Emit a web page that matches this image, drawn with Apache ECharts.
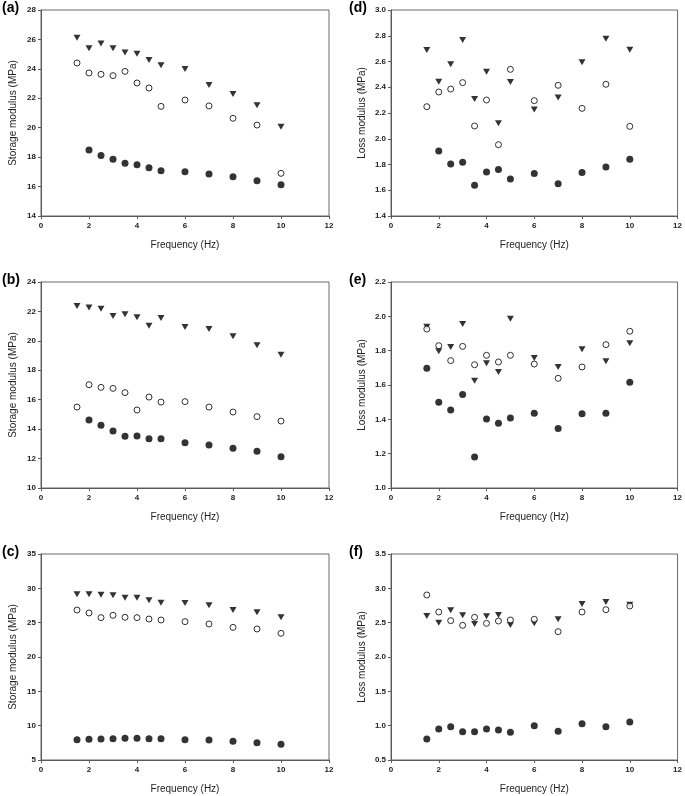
<!DOCTYPE html>
<html>
<head>
<meta charset="utf-8">
<script src="https://cdn.jsdelivr.net/npm/echarts@6/dist/echarts.min.js"></script>
<style>
html,body{margin:0;padding:0;background:#fff;}
#chart{width:685px;height:796px;}
</style>
</head>
<body>
<div id="chart"></div>
<script>
// Frequencies (Hz)
var freq = [1.5, 2, 2.5, 3, 3.5, 4, 4.5, 5, 6, 7, 8, 9, 10];
var xTicks = [0, 2, 4, 6, 8, 10, 12];

// (a) Storage modulus
var aTri    = [26.12, 25.40, 25.73, 25.40, 25.12, 25.03, 24.60, 24.24, 23.99, 22.90, 22.29, 21.52, 20.07];
var aOpen   = [24.40, 23.72, 23.63, 23.54, 23.83, 23.04, 22.70, 21.45, 21.88, 21.48, 20.64, 20.18, 16.90];
var aFilled = [null, 18.49, 18.12, 17.85, 17.58, 17.49, 17.28, 17.08, 17.01, 16.85, 16.67, 16.40, 16.13];

// (b) Storage modulus
var bTri    = [22.37, 22.26, 22.19, 21.69, 21.80, 21.60, 21.03, 21.55, 20.94, 20.81, 20.31, 19.70, 19.06];
var bOpen   = [15.50, 17.02, 16.84, 16.77, 16.48, 15.30, 16.18, 15.84, 15.87, 15.50, 15.16, 14.85, 14.55];
var bFilled = [null, 14.62, 14.26, 13.87, 13.51, 13.53, 13.35, 13.35, 13.08, 12.92, 12.70, 12.49, 12.13];

// (c) Storage modulus
var cTri    = [29.13, 29.13, 29.08, 28.98, 28.64, 28.64, 28.25, 27.91, 27.86, 27.52, 26.84, 26.50, 25.78];
var cOpen   = [26.84, 26.41, 25.73, 26.07, 25.78, 25.73, 25.53, 25.39, 25.15, 24.81, 24.32, 24.08, 23.45];
var cFilled = [7.96, 8.01, 8.06, 8.11, 8.16, 8.16, 8.11, 8.11, 7.96, 7.91, 7.72, 7.52, 7.28];

// (d) Loss modulus
var dTri    = [2.690, 2.443, 2.578, 2.767, 2.309, 2.521, 2.120, 2.440, 2.228, 2.320, 2.594, 2.777, 2.692];
var dOpen   = [2.249, 2.363, 2.386, 2.436, 2.099, 2.301, 1.954, 2.539, 2.296, 2.415, 2.236, 2.423, 2.096];
var dFilled = [null, 1.905, 1.804, 1.817, 1.638, 1.742, 1.762, 1.687, 1.731, 1.651, 1.737, 1.781, 1.840];

// (e) Loss modulus
var eTri    = [1.940, 1.796, 1.821, 1.955, 1.625, 1.726, 1.676, 1.986, 1.757, 1.705, 1.808, 1.738, 1.843];
var eOpen   = [1.926, 1.829, 1.742, 1.825, 1.718, 1.773, 1.734, 1.773, 1.722, 1.639, 1.705, 1.835, 1.913];
var eFilled = [1.697, 1.499, 1.454, 1.544, 1.181, 1.402, 1.377, 1.408, 1.435, 1.346, 1.433, 1.435, 1.616];

// (f) Loss modulus
var fTri    = [2.597, 2.500, 2.680, 2.607, 2.480, 2.592, 2.612, 2.466, 2.490, 2.549, 2.772, 2.801, 2.762];
var fOpen   = [2.903, 2.655, 2.529, 2.461, 2.578, 2.490, 2.524, 2.539, 2.549, 2.369, 2.655, 2.689, 2.743];
var fFilled = [0.806, 0.951, 0.985, 0.913, 0.913, 0.951, 0.937, 0.903, 1.000, 0.917, 1.029, 0.985, 1.053];

// Panel labels and axis ranges
var panelLabels = ['(a)', '(b)', '(c)', '(d)', '(e)', '(f)'];
var yTitles = ['Storage modulus (MPa)', 'Storage modulus (MPa)', 'Storage modulus (MPa)',
               'Loss modulus (MPa)', 'Loss modulus (MPa)', 'Loss modulus (MPa)'];
var xTitle = 'Frequency (Hz)';
var yMin = [14, 10, 5, 1.4, 1.0, 0.5];
var yMax = [28, 24, 35, 3.0, 2.2, 3.5];
var yStep = [2, 2, 5, 0.2, 0.2, 0.5];
var yDecimals = [0, 0, 0, 1, 1, 1];

var panels = [
  [aTri, aOpen, aFilled],
  [bTri, bOpen, bFilled],
  [cTri, cOpen, cFilled],
  [dTri, dOpen, dFilled],
  [eTri, eOpen, eFilled],
  [fTri, fOpen, fFilled]
];

function pairs(vals) {
  var out = [];
  for (var i = 0; i < freq.length; i++) {
    if (vals[i] !== null && vals[i] !== undefined) out.push([freq[i], vals[i]]);
  }
  return out;
}

// Layout
var lefts = [41, 41, 41, 391, 391, 391];
var tops = [10, 282, 554, 10, 282, 554];
var W = 288, H = 206;
var axisColor = '#5a5a5a';
var font = 'Arial, "Liberation Sans", Helvetica, sans-serif';

var grids = [], xAxes = [], yAxes = [], series = [], titles = [];
for (var p = 0; p < 6; p++) {
  grids.push({left: lefts[p], top: tops[p], width: W, height: H,
    show: true, borderColor: '#6a6a6a', borderWidth: 1, backgroundColor: 'transparent'});
  xAxes.push({
    gridIndex: p, type: 'value', min: 0, max: 12, interval: 2,
    name: xTitle, nameLocation: 'middle', nameGap: 24,
    nameTextStyle: {fontFamily: font, fontSize: 10, color: '#222'},
    axisLine: {show: true, onZero: false, lineStyle: {color: axisColor, width: 1}},
    axisTick: {show: true, inside: false, length: 3, lineStyle: {color: axisColor}},
    axisLabel: {fontFamily: font, fontSize: 8, color: '#222', margin: 6, fontWeight: 'bold'},
    splitLine: {show: false}
  });
  (function(dec) {
    yAxes.push({
      gridIndex: p, type: 'value', min: yMin[p], max: yMax[p], interval: yStep[p],
      name: yTitles[p], nameLocation: 'middle', nameGap: p < 3 ? 23 : 24, nameRotate: 90,
      nameTextStyle: {fontFamily: font, fontSize: 10, color: '#222'},
      axisLine: {show: true, onZero: false, lineStyle: {color: axisColor, width: 1}},
      axisTick: {show: true, inside: false, length: 3, lineStyle: {color: axisColor}},
      axisLabel: {fontFamily: font, fontSize: 8, color: '#222', margin: 5, fontWeight: 'bold',
        formatter: function(v) { return v.toFixed(dec); }},
      splitLine: {show: false}
    });
  })(yDecimals[p]);
  var d = panels[p];
  series.push({type: 'scatter', xAxisIndex: p, yAxisIndex: p, data: pairs(d[0]),
    symbol: 'triangle', symbolRotate: 180, symbolSize: [7, 6],
    itemStyle: {color: '#000'}, silent: true});
  series.push({type: 'scatter', xAxisIndex: p, yAxisIndex: p, data: pairs(d[1]),
    symbol: 'circle', symbolSize: 6,
    itemStyle: {color: '#fff', borderColor: '#000', borderWidth: 1}, silent: true});
  series.push({type: 'scatter', xAxisIndex: p, yAxisIndex: p, data: pairs(d[2]),
    symbol: 'circle', symbolSize: 7,
    itemStyle: {color: '#000'}, silent: true});
  titles.push({text: panelLabels[p], left: p < 3 ? 2 : 349, top: tops[p] - 9,
    textStyle: {fontFamily: font, fontSize: 14, fontWeight: 'bold', color: '#000'}, padding: 0});
}

var chart = echarts.init(document.getElementById('chart'), null, {renderer: 'canvas'});
chart.setOption({
  animation: false,
  backgroundColor: '#fff',
  title: titles,
  grid: grids,
  xAxis: xAxes,
  yAxis: yAxes,
  series: series
});
</script>
</body>
</html>
